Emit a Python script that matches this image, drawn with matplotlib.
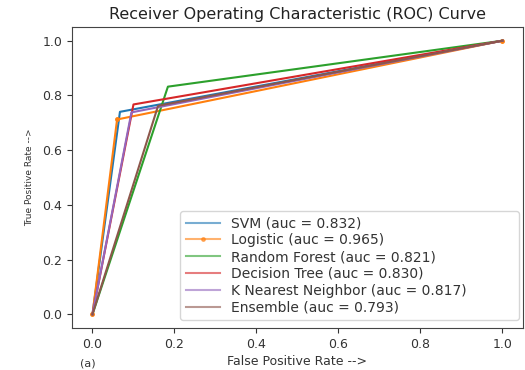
import matplotlib
matplotlib.use("Agg")
import matplotlib.pyplot as plt

# ROC points: (0,0) -> (fpr, tpr) -> (1,1)
models = ["SVM", "Logistic", "Random Forest", "Decision Tree", "K Nearest Neighbor", "Ensemble"]
auc = [0.832, 0.965, 0.821, 0.830, 0.817, 0.793]
fpr = [
    [0.0, 0.067, 1.0],
    [0.0, 0.060, 1.0],
    [0.0, 0.184, 1.0],
    [0.0, 0.100, 1.0],
    [0.0, 0.095, 1.0],
    [0.0, 0.160, 1.0],
]
tpr = [
    [0.0, 0.740, 1.0],
    [0.0, 0.712, 1.0],
    [0.0, 0.832, 1.0],
    [0.0, 0.767, 1.0],
    [0.0, 0.738, 1.0],
    [0.0, 0.762, 1.0],
]
colors = ["#1f77b4", "#ff7f0e", "#2ca02c", "#d62728", "#9467bd", "#8c564b"]
markers = [None, ".", None, None, None, None]

fig = plt.figure(figsize=(5.25, 3.7), dpi=100)
ax = fig.add_axes([0.1371, 0.1135, 0.859, 0.8135])

for i in range(len(models)):
    ax.plot(fpr[i], tpr[i], color=colors[i], marker=markers[i], lw=1.5,
            markersize=5, label="%s (auc = %.3f)" % (models[i], auc[i]))

ax.set_xlim(-0.05, 1.05)
ax.set_ylim(-0.05, 1.05)
ax.set_xticks([0.0, 0.2, 0.4, 0.6, 0.8, 1.0])
ax.set_yticks([0.0, 0.2, 0.4, 0.6, 0.8, 1.0])
ax.tick_params(labelsize=9, colors="#333333")
for s in ax.spines.values():
    s.set_color("#444444")

ax.set_title("Receiver Operating Characteristic (ROC) Curve", fontsize=11.5, color="#222222")
ax.set_xlabel("False Positive Rate -->", fontsize=9, color="#333333", labelpad=3)
ax.set_ylabel("True Positive Rate -->", fontsize=6.5, color="#333333", labelpad=6)

leg = ax.legend(loc="lower left", bbox_to_anchor=(0.2395, 0.0266, 0.7516, 0.362),
                mode="expand", borderaxespad=0, fontsize=10, labelspacing=0.2,
                handlelength=2.5, handletextpad=0.8, labelcolor="#333333")
for h in leg.get_lines():
    h.set_alpha(0.6)

fig.text(80 / 525, 1 / 370, "(a)", va="bottom", fontsize=8, color="#333333")

fig.savefig("out.png", dpi=100)
